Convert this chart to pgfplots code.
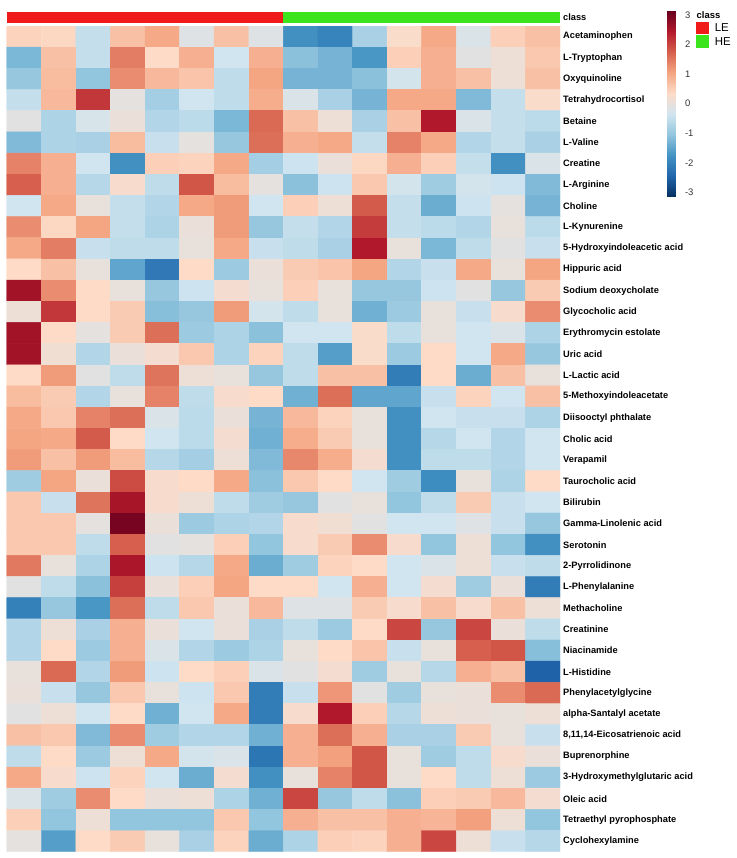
\documentclass[border=0pt]{standalone}
\usepackage{pgfplots}
\pgfplotsset{compat=1.18}
\usepackage{fontspec}
\setmainfont{Liberation Sans}
\definecolor{LEred}{RGB}{240,26,26}
\definecolor{HEgreen}{RGB}{60,228,30}
\begin{document}
\begin{tikzpicture}
\path[use as bounding box] (0,0) rectangle (737bp,858bp);
% heatmap: columns = samples (8 LE, 8 HE), rows = metabolites
\begin{axis}[
	at={(6.7bp,6.3bp)}, anchor=south west,
	scale only axis, width=553.3bp, height=825.7bp,
	xmin=-0.5, xmax=15.5, ymin=-0.5, ymax=38.5, y dir=reverse,
	axis line style={draw=none}, major tick length=0pt,
	xtick=\empty, ytick={0,...,38}, yticklabel pos=right,
	yticklabels={Acetaminophen, L-Tryptophan, Oxyquinoline, Tetrahydrocortisol, Betaine, L-Valine, Creatine, L-Arginine, Choline, L-Kynurenine, 5-Hydroxyindoleacetic acid, Hippuric acid, Sodium deoxycholate, Glycocholic acid, Erythromycin estolate, Uric acid, L-Lactic acid, 5-Methoxyindoleacetate, Diisooctyl phthalate, Cholic acid, Verapamil, Taurocholic acid, Bilirubin, Gamma-Linolenic acid, Serotonin, 2-Pyrrolidinone, L-Phenylalanine, Methacholine, Creatinine, Niacinamide, L-Histidine, Phenylacetylglycine, alpha-Santalyl acetate, {8,11,14-Eicosatrienoic acid}, Buprenorphine, 3-Hydroxymethylglutaric acid, Oleic acid, Tetraethyl pyrophosphate, Cyclohexylamine},
	yticklabel style={font=\bfseries\fontsize{9.3}{11}\selectfont, anchor=west, inner sep=0pt, xshift=3bp},
	colormap={rdbu}{rgb255(0)=(5,48,97) rgb255(1)=(33,102,172) rgb255(2)=(67,147,195) rgb255(3)=(146,197,222) rgb255(4)=(209,229,240) rgb255(5)=(253,219,199) rgb255(6)=(244,165,130) rgb255(7)=(214,96,77) rgb255(8)=(178,24,43) rgb255(9)=(103,0,31)},
	point meta min=-3.15, point meta max=3.15,
	colorbar,
	colorbar style={at={(parent axis.north west)}, anchor=north west,
		xshift=651.9bp, yshift=15.3bp,
		scale only axis, width=8.7bp, height=186bp,
		font=\fontsize{9.5}{11}\selectfont,
		ytick={-3,...,3}, yticklabels={-3,-2,-1,0,1,2,3}, yticklabel pos=right,
		axis line style={draw=none}, major tick length=0pt,
		yticklabel style={font=\fontsize{9.5}{11}\selectfont, text=black!80, anchor=west, inner sep=0pt, xshift=9bp}},
]
\addplot[matrix plot*, mesh/cols=16, point meta=explicit] coordinates {
(0,0)[0.45] (1,0)[0.40] (2,0)[-0.50] (3,0)[0.70] (4,0)[1.00] (5,0)[-0.15] (6,0)[0.70] (7,0)[-0.15] (8,0)[-1.80] (9,0)[-2.00] (10,0)[-0.80] (11,0)[0.30] (12,0)[1.00] (13,0)[-0.20] (14,0)[0.50] (15,0)[0.70]
(0,1)[-1.25] (1,1)[0.70] (2,1)[-0.50] (3,1)[1.45] (4,1)[0.35] (5,1)[0.90] (6,1)[-0.35] (7,1)[0.90] (8,1)[-1.10] (9,1)[-1.30] (10,1)[-1.70] (11,1)[0.50] (12,1)[0.90] (13,1)[-0.10] (14,1)[0.10] (15,1)[0.60]
(0,2)[-1.00] (1,2)[0.75] (2,2)[-1.05] (3,2)[1.30] (4,2)[0.80] (5,2)[0.65] (6,2)[-0.55] (7,2)[1.05] (8,2)[-1.30] (9,2)[-1.30] (10,2)[-1.10] (11,2)[-0.30] (12,2)[0.90] (13,2)[0.70] (14,2)[0.10] (15,2)[0.70]
(0,3)[-0.50] (1,3)[0.80] (2,3)[2.15] (3,3)[-0.05] (4,3)[-0.85] (5,3)[-0.35] (6,3)[-0.55] (7,3)[0.95] (8,3)[-0.20] (9,3)[-0.80] (10,3)[-1.30] (11,3)[1.00] (12,3)[1.00] (13,3)[-1.20] (14,3)[-0.50] (15,3)[0.30]
(0,4)[-0.10] (1,4)[-0.75] (2,4)[-0.25] (3,4)[0.05] (4,4)[-0.70] (5,4)[-0.60] (6,4)[-1.25] (7,4)[1.65] (8,4)[0.70] (9,4)[0.10] (10,4)[-0.80] (11,4)[0.70] (12,4)[2.45] (13,4)[-0.20] (14,4)[-0.50] (15,4)[-0.60]
(0,5)[-1.20] (1,5)[-0.75] (2,5)[-0.80] (3,5)[0.75] (4,5)[-0.45] (5,5)[-0.05] (6,5)[-1.00] (7,5)[1.60] (8,5)[0.90] (9,5)[1.00] (10,5)[-0.50] (11,5)[1.40] (12,5)[1.00] (13,5)[-0.70] (14,5)[-0.50] (15,5)[-0.80]
(0,6)[1.40] (1,6)[0.90] (2,6)[-0.35] (3,6)[-1.80] (4,6)[0.50] (5,6)[0.45] (6,6)[1.00] (7,6)[-0.85] (8,6)[-0.40] (9,6)[0.05] (10,6)[0.40] (11,6)[0.90] (12,6)[0.50] (13,6)[-0.50] (14,6)[-1.80] (15,6)[-0.20]
(0,7)[1.75] (1,7)[0.90] (2,7)[-0.65] (3,7)[0.25] (4,7)[-0.55] (5,7)[1.85] (6,7)[0.75] (7,7)[-0.05] (8,7)[-1.10] (9,7)[-0.40] (10,7)[0.60] (11,7)[-0.30] (12,7)[-0.90] (13,7)[-0.30] (14,7)[-0.40] (15,7)[-1.20]
(0,8)[-0.35] (1,8)[1.00] (2,8)[0.00] (3,8)[-0.50] (4,8)[-0.70] (5,8)[1.00] (6,8)[1.15] (7,8)[-0.35] (8,8)[0.50] (9,8)[0.10] (10,8)[1.80] (11,8)[-0.50] (12,8)[-1.40] (13,8)[-0.40] (14,8)[-0.05] (15,8)[-1.30]
(0,9)[1.30] (1,9)[0.40] (2,9)[1.05] (3,9)[-0.50] (4,9)[-0.75] (5,9)[0.05] (6,9)[1.15] (7,9)[-1.00] (8,9)[-0.50] (9,9)[-0.70] (10,9)[2.10] (11,9)[-0.50] (12,9)[-0.60] (13,9)[-0.70] (14,9)[0.00] (15,9)[-0.60]
(0,10)[1.00] (1,10)[1.45] (2,10)[-0.45] (3,10)[-0.55] (4,10)[-0.55] (5,10)[0.00] (6,10)[1.00] (7,10)[-0.45] (8,10)[-0.55] (9,10)[-0.80] (10,10)[2.45] (11,10)[0.00] (12,10)[-1.25] (13,10)[-0.55] (14,10)[-0.10] (15,10)[-0.45]
(0,11)[0.35] (1,11)[0.70] (2,11)[0.00] (3,11)[-1.50] (4,11)[-2.15] (5,11)[0.35] (6,11)[-0.95] (7,11)[0.05] (8,11)[0.55] (9,11)[0.65] (10,11)[1.05] (11,11)[-0.70] (12,11)[-0.45] (13,11)[1.00] (14,11)[0.00] (15,11)[1.05]
(0,12)[2.60] (1,12)[1.30] (2,12)[0.35] (3,12)[0.00] (4,12)[-1.00] (5,12)[-0.40] (6,12)[0.20] (7,12)[0.00] (8,12)[0.50] (9,12)[0.00] (10,12)[-1.00] (11,12)[-1.00] (12,12)[-0.40] (13,12)[-0.10] (14,12)[-1.00] (15,12)[0.55]
(0,13)[0.10] (1,13)[2.15] (2,13)[0.35] (3,13)[0.55] (4,13)[-1.15] (5,13)[-1.00] (6,13)[1.15] (7,13)[-0.30] (8,13)[-0.55] (9,13)[0.00] (10,13)[-1.35] (11,13)[-0.95] (12,13)[0.00] (13,13)[-0.45] (14,13)[0.25] (15,13)[1.30]
(0,14)[2.60] (1,14)[0.35] (2,14)[-0.05] (3,14)[0.55] (4,14)[1.60] (5,14)[-0.95] (6,14)[-0.75] (7,14)[-1.10] (8,14)[-0.35] (9,14)[-0.35] (10,14)[0.30] (11,14)[-0.55] (12,14)[0.00] (13,14)[-0.35] (14,14)[-0.20] (15,14)[-0.75]
(0,15)[2.60] (1,15)[0.15] (2,15)[-0.70] (3,15)[0.05] (4,15)[0.20] (5,15)[0.60] (6,15)[-0.75] (7,15)[0.45] (8,15)[-0.55] (9,15)[-1.60] (10,15)[0.30] (11,15)[-0.95] (12,15)[0.35] (13,15)[-0.35] (14,15)[1.00] (15,15)[-1.00]
(0,16)[0.35] (1,16)[1.15] (2,16)[-0.10] (3,16)[-0.55] (4,16)[1.55] (5,16)[0.10] (6,16)[0.00] (7,16)[-1.00] (8,16)[-0.55] (9,16)[0.70] (10,16)[0.70] (11,16)[-2.10] (12,16)[0.35] (13,16)[-1.40] (14,16)[0.70] (15,16)[0.00]
(0,17)[0.75] (1,17)[0.55] (2,17)[-0.70] (3,17)[0.00] (4,17)[1.40] (5,17)[-0.55] (6,17)[0.25] (7,17)[0.35] (8,17)[-1.35] (9,17)[1.60] (10,17)[-1.50] (11,17)[-1.50] (12,17)[-0.45] (13,17)[0.45] (14,17)[-0.35] (15,17)[0.70]
(0,18)[1.00] (1,18)[0.60] (2,18)[1.40] (3,18)[1.60] (4,18)[-0.20] (5,18)[-0.60] (6,18)[0.05] (7,18)[-1.30] (8,18)[0.80] (9,18)[0.45] (10,18)[0.00] (11,18)[-1.80] (12,18)[-0.35] (13,18)[-0.45] (14,18)[-0.45] (15,18)[-0.75]
(0,19)[1.05] (1,19)[1.00] (2,19)[1.80] (3,19)[0.35] (4,19)[-0.35] (5,19)[-0.60] (6,19)[0.20] (7,19)[-1.35] (8,19)[0.95] (9,19)[0.55] (10,19)[0.02] (11,19)[-1.80] (12,19)[-0.65] (13,19)[-0.35] (14,19)[-0.70] (15,19)[-0.35]
(0,20)[1.15] (1,20)[0.70] (2,20)[1.15] (3,20)[0.75] (4,20)[-0.65] (5,20)[-0.85] (6,20)[0.10] (7,20)[-1.20] (8,20)[1.35] (9,20)[0.95] (10,20)[0.20] (11,20)[-1.80] (12,20)[-0.55] (13,20)[-0.55] (14,20)[-0.70] (15,20)[-0.35]
(0,21)[-0.90] (1,21)[1.05] (2,21)[0.05] (3,21)[1.95] (4,21)[0.25] (5,21)[0.35] (6,21)[1.00] (7,21)[-1.10] (8,21)[0.60] (9,21)[0.35] (10,21)[-0.35] (11,21)[-0.90] (12,21)[-1.85] (13,21)[0.00] (14,21)[-0.75] (15,21)[0.35]
(0,22)[0.60] (1,22)[-0.45] (2,22)[1.55] (3,22)[2.55] (4,22)[0.25] (5,22)[0.10] (6,22)[-0.55] (7,22)[-0.90] (8,22)[-1.00] (9,22)[-0.10] (10,22)[0.00] (11,22)[-1.05] (12,22)[-0.55] (13,22)[0.55] (14,22)[-0.45] (15,22)[-0.35]
(0,23)[0.60] (1,23)[0.60] (2,23)[-0.05] (3,23)[3.00] (4,23)[0.05] (5,23)[-0.95] (6,23)[-0.75] (7,23)[-0.70] (8,23)[0.25] (9,23)[0.15] (10,23)[-0.10] (11,23)[-0.35] (12,23)[-0.35] (13,23)[-0.15] (14,23)[-0.45] (15,23)[-1.00]
(0,24)[0.60] (1,24)[0.60] (2,24)[-0.55] (3,24)[1.75] (4,24)[-0.10] (5,24)[-0.05] (6,24)[0.50] (7,24)[-1.05] (8,24)[0.25] (9,24)[0.55] (10,24)[1.30] (11,24)[0.25] (12,24)[-1.05] (13,24)[0.10] (14,24)[-1.05] (15,24)[-1.80]
(0,25)[1.50] (1,25)[0.00] (2,25)[-0.75] (3,25)[2.50] (4,25)[-0.40] (5,25)[-0.65] (6,25)[1.00] (7,25)[-1.40] (8,25)[-0.90] (9,25)[0.45] (10,25)[0.35] (11,25)[-0.35] (12,25)[-0.20] (13,25)[0.10] (14,25)[-0.45] (15,25)[-0.55]
(0,26)[-0.10] (1,26)[-0.55] (2,26)[-1.10] (3,26)[2.05] (4,26)[0.05] (5,26)[0.50] (6,26)[1.05] (7,26)[0.35] (8,26)[0.35] (9,26)[-0.35] (10,26)[0.90] (11,26)[-0.35] (12,26)[0.20] (13,26)[-0.90] (14,26)[0.05] (15,26)[-2.10]
(0,27)[-2.05] (1,27)[-1.00] (2,27)[-1.70] (3,27)[1.60] (4,27)[-0.55] (5,27)[0.60] (6,27)[0.05] (7,27)[0.80] (8,27)[-0.15] (9,27)[-0.15] (10,27)[0.55] (11,27)[0.25] (12,27)[0.70] (13,27)[0.25] (14,27)[0.70] (15,27)[0.10]
(0,28)[-0.70] (1,28)[0.10] (2,28)[-0.80] (3,28)[0.90] (4,28)[0.05] (5,28)[-0.35] (6,28)[0.05] (7,28)[-0.80] (8,28)[-0.55] (9,28)[-0.95] (10,28)[0.35] (11,28)[2.00] (12,28)[-1.00] (13,28)[2.00] (14,28)[0.05] (15,28)[-0.55]
(0,29)[-0.70] (1,29)[0.35] (2,29)[-0.95] (3,29)[0.90] (4,29)[-0.20] (5,29)[-0.70] (6,29)[-0.95] (7,29)[-0.75] (8,29)[0.00] (9,29)[0.35] (10,29)[0.65] (11,29)[-0.45] (12,29)[0.00] (13,29)[1.75] (14,29)[1.85] (15,29)[-1.15]
(0,30)[0.00] (1,30)[1.65] (2,30)[-0.70] (3,30)[1.15] (4,30)[-0.40] (5,30)[0.35] (6,30)[0.50] (7,30)[-0.20] (8,30)[-0.10] (9,30)[0.20] (10,30)[-0.90] (11,30)[0.02] (12,30)[-0.65] (13,30)[0.90] (14,30)[0.70] (15,30)[-2.50]
(0,31)[0.05] (1,31)[-0.45] (2,31)[-1.00] (3,31)[0.60] (4,31)[0.02] (5,31)[-0.40] (6,31)[0.60] (7,31)[-2.10] (8,31)[-0.45] (9,31)[1.20] (10,31)[-0.10] (11,31)[-0.90] (12,31)[0.00] (13,31)[0.05] (14,31)[1.30] (15,31)[1.65]
(0,32)[-0.10] (1,32)[0.10] (2,32)[-0.35] (3,32)[0.35] (4,32)[-1.35] (5,32)[-0.35] (6,32)[1.00] (7,32)[-2.10] (8,32)[0.25] (9,32)[2.45] (10,32)[0.50] (11,32)[-0.65] (12,32)[0.10] (13,32)[0.05] (14,32)[0.00] (15,32)[0.10]
(0,33)[0.70] (1,33)[0.60] (2,33)[-1.20] (3,33)[1.30] (4,33)[-0.90] (5,33)[-0.70] (6,33)[-0.70] (7,33)[-1.35] (8,33)[0.90] (9,33)[1.60] (10,33)[0.90] (11,33)[-0.80] (12,33)[-0.80] (13,33)[0.55] (14,33)[0.00] (15,33)[-0.45]
(0,34)[-0.55] (1,34)[0.35] (2,34)[-0.95] (3,34)[0.10] (4,34)[1.00] (5,34)[-0.30] (6,34)[-0.20] (7,34)[-2.20] (8,34)[0.90] (9,34)[1.10] (10,34)[1.85] (11,34)[0.00] (12,34)[-0.90] (13,34)[-0.55] (14,34)[0.25] (15,34)[0.05]
(0,35)[1.00] (1,35)[0.25] (2,35)[-0.40] (3,35)[0.45] (4,35)[-0.35] (5,35)[-1.40] (6,35)[0.20] (7,35)[-1.80] (8,35)[0.00] (9,35)[1.40] (10,35)[1.85] (11,35)[0.00] (12,35)[0.35] (13,35)[-0.55] (14,35)[0.10] (15,35)[-0.95]
(0,36)[-0.20] (1,36)[-0.90] (2,36)[1.30] (3,36)[0.35] (4,36)[0.05] (5,36)[0.10] (6,36)[-0.75] (7,36)[-1.35] (8,36)[2.00] (9,36)[-1.00] (10,36)[-0.55] (11,36)[-1.10] (12,36)[0.50] (13,36)[0.55] (14,36)[0.80] (15,36)[0.20]
(0,37)[0.50] (1,37)[-1.05] (2,37)[0.10] (3,37)[-1.05] (4,37)[-1.05] (5,37)[-1.05] (6,37)[0.60] (7,37)[-1.05] (8,37)[0.90] (9,37)[0.70] (10,37)[0.70] (11,37)[0.90] (12,37)[0.85] (13,37)[1.10] (14,37)[0.10] (15,37)[-1.05]
(0,38)[-0.05] (1,38)[-1.60] (2,38)[0.35] (3,38)[0.55] (4,38)[0.00] (5,38)[-0.80] (6,38)[0.45] (7,38)[-1.40] (8,38)[-0.75] (9,38)[0.50] (10,38)[0.45] (11,38)[0.90] (12,38)[2.00] (13,38)[0.10] (14,38)[-0.45] (15,38)[-0.65]
};
\end{axis}
% class annotation bar with its legend
\begin{axis}[
	at={(6.7bp,835.3bp)}, anchor=south west,
	scale only axis, width=553.3bp, height=10.4bp,
	xmin=-0.5, xmax=15.5, ymin=0, ymax=1, clip=false,
	axis line style={draw=none}, major tick length=0pt,
	xtick=\empty, ytick={0.5}, yticklabels={class}, yticklabel pos=right,
	yticklabel style={font=\bfseries\fontsize{9.3}{11}\selectfont, anchor=west, inner sep=0pt, xshift=3bp},
	legend cell align=left,
	legend style={at={(1.2458,0.096)}, anchor=north west, draw=none, fill=none,
		inner sep=0pt, outer sep=0pt, row sep=1bp, column sep=5.5bp,
		nodes={inner sep=0pt, font=\fontsize{11.5}{13}\selectfont}},
	legend image code/.code={\fill[#1] (0bp,-6.4bp) rectangle (13.3bp,6.4bp);},
]
\addplot[fill=LEred, draw=none] coordinates {(-0.5,0) (7.5,0) (7.5,1) (-0.5,1)};
\addlegendentry{LE}
\addplot[fill=HEgreen, draw=none] coordinates {(7.5,0) (15.5,0) (15.5,1) (7.5,1)};
\addlegendentry{HE}
\node[anchor=west, inner sep=0pt, font=\bfseries\fontsize{9.5}{11}\selectfont] at (rel axis cs:1.2467,0.74) {class};
\end{axis}
\end{tikzpicture}
\end{document}
